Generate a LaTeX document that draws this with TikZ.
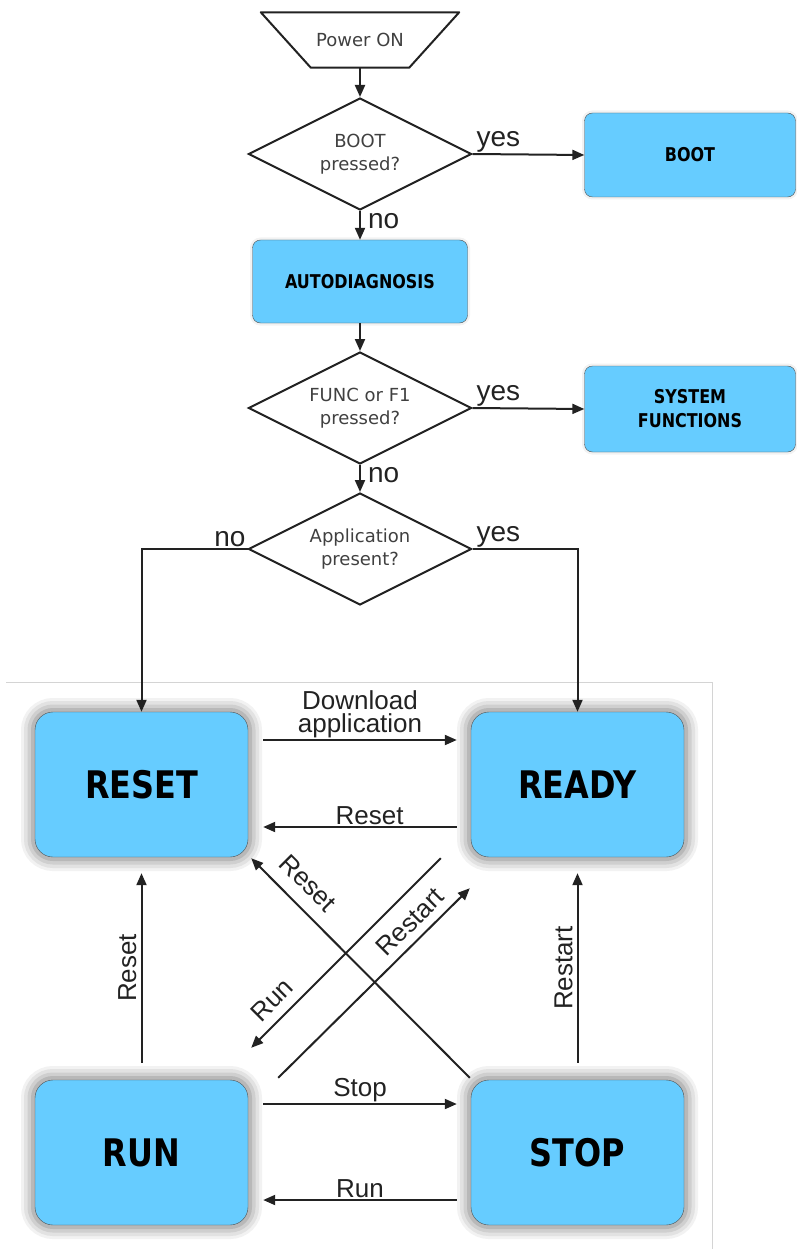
\documentclass[tikz,border=0pt]{standalone}
\usepackage{fontspec}
\setmainfont{Liberation Sans}
\newfontfamily\boxfont{DejaVu Sans}[FakeStretch=0.84]
\newfontfamily\askfont{DejaVu Sans}
\usetikzlibrary{positioning, arrows.meta, calc, shapes.geometric}
\definecolor{boxFill}{HTML}{66CCFF}
\definecolor{boxLine}{HTML}{505050}
\definecolor{glowA}{HTML}{B8B8B8}
\definecolor{glowB}{HTML}{CFCFCF}
\definecolor{glowC}{HTML}{E2E2E2}
\definecolor{glowD}{HTML}{F2F2F2}
\definecolor{askText}{HTML}{404040}
\definecolor{wire}{HTML}{222222}
\definecolor{frameLine}{HTML}{D4D4D4}
\begin{document}
\begin{tikzpicture}[x=1pt, y=-1pt,
  ask/.style={diamond, draw=wire, line width=2pt, aspect=2, minimum width=223pt, minimum height=112pt, inner sep=0pt, align=center, font=\askfont\fontsize{18}{23}\selectfont, text=askText},
  topbox/.style={draw=boxLine, fill=boxFill, rounded corners=8pt, minimum width=211pt, minimum height=84pt, align=center, font=\boxfont\bfseries\fontsize{19}{24}\selectfont, preaction={draw=glowD, line width=5pt}},
  stbox/.style={draw=boxLine, fill=boxFill, rounded corners=18pt, minimum width=213pt, minimum height=145pt, font=\boxfont\bfseries\fontsize{38}{44}\selectfont, preaction={draw=glowD, line width=28pt}, preaction={draw=glowC, line width=22pt}, preaction={draw=glowB, line width=15pt}, preaction={draw=glowA, line width=8pt}},
  link/.style={draw=wire, line width=2pt, -{Triangle[length=12pt, width=10pt]}},
  lbl/.style={font=\fontsize{26}{23}\selectfont, text=wire, inner sep=1pt, align=center},
  ans/.style={font=\fontsize{28}{30}\selectfont, text=wire, inner sep=1pt}]
\useasboundingbox (0,0) rectangle (797,1249);
\draw[frameLine, line width=1pt] (6,682) -- (712,682) -- (712,1249);
\node[minimum width=198pt, minimum height=55pt, inner sep=0pt, font=\askfont\fontsize{18}{20}\selectfont, text=askText] (pwr) at (360,40) {Power ON};
\draw[wire, line width=2pt, line join=round] (pwr.north west) -- (pwr.north east) -- ($(pwr.south east)+(-50,0)$) -- ($(pwr.south west)+(50,0)$) -- cycle;
\node[ask] (boot?) at (360,154) {BOOT\\pressed?};
\node[topbox] (boot) at (690,155) {BOOT};
\node[topbox, minimum width=215pt, minimum height=83pt] (diag) at (360,281.5) {AUTODIAGNOSIS};
\node[ask] (func?) at (360,408) {FUNC or F1\\pressed?};
\node[topbox, minimum height=86pt] (sys) at (690,409) {SYSTEM\\FUNCTIONS};
\node[ask] (app?) at (360,549) {Application\\present?};
\node[stbox] (reset) at (141.5,784.5) {RESET};
\node[stbox] (ready) at (577.5,784.5) {READY};
\node[stbox] (run) at (141.5,1152.5) {RUN};
\node[stbox] (stop) at (577.5,1152.5) {STOP};
\draw[link] (pwr.south) -- (boot?.north);
\draw[link] (boot?.east) -- (boot.west) node[ans, pos=0, anchor=south west, xshift=2pt] {yes};
\draw[link] (boot?.south) -- (diag.north) node[ans, pos=0, anchor=north west, xshift=6pt] {no};
\draw[link] (diag.south) -- (func?.north);
\draw[link] (func?.east) -- (sys.west) node[ans, pos=0, anchor=south west, xshift=2pt] {yes};
\draw[link] (func?.south) -- (app?.north) node[ans, pos=0, anchor=north west, xshift=6pt] {no};
\draw[link] (app?.west) -| (reset.north) node[ans, pos=0, anchor=south east] {no};
\draw[link] (app?.east) -| (ready.north) node[ans, pos=0, anchor=south west, xshift=2pt] {yes};
\draw[link] ($(reset.east)+(15,-44.5)$) -- ($(ready.west)+(-14,-44.5)$) node[lbl, midway, above] {Download\\application};
\draw[link] ($(ready.west)+(-14,42.5)$) -- ($(reset.east)+(15,42.5)$) node[lbl, pos=0.45, above] {Reset};
\draw[link] ($(run.east)+(15,-48.5)$) -- ($(stop.west)+(-14,-48.5)$) node[lbl, midway, above] {Stop};
\draw[link] ($(stop.west)+(-14,47.5)$) -- ($(run.east)+(15,47.5)$) node[lbl, midway, above] {Run};
\draw[link] ($(run.north)+(0,-17)$) -- ($(reset.south)+(0,16)$) node[lbl, midway, rotate=90, anchor=south, inner sep=4pt] {Reset};
\draw[link] ($(stop.north)+(0,-17)$) -- ($(ready.south)+(0,16)$) node[lbl, midway, rotate=90, anchor=south, inner sep=4pt] {Restart};
\draw[link] ($(stop.north west)+(-1,-2)$) -- ($(reset.south east)+(3,1)$);
\draw[link] ($(ready.south west)+(-30,1)$) -- ($(run.north east)+(3,-32)$);
\draw[link] ($(run.north east)+(30,-2)$) -- ($(ready.south west)+(-1,31)$);
\node[lbl, rotate=-45] (resetTag) at (308,883) {Reset};
\node[lbl, rotate=45] (runTag) at (272,1000) {Run};
\node[lbl, rotate=45] (restartTag) at (410,922) {Restart};
\end{tikzpicture}
\end{document}
